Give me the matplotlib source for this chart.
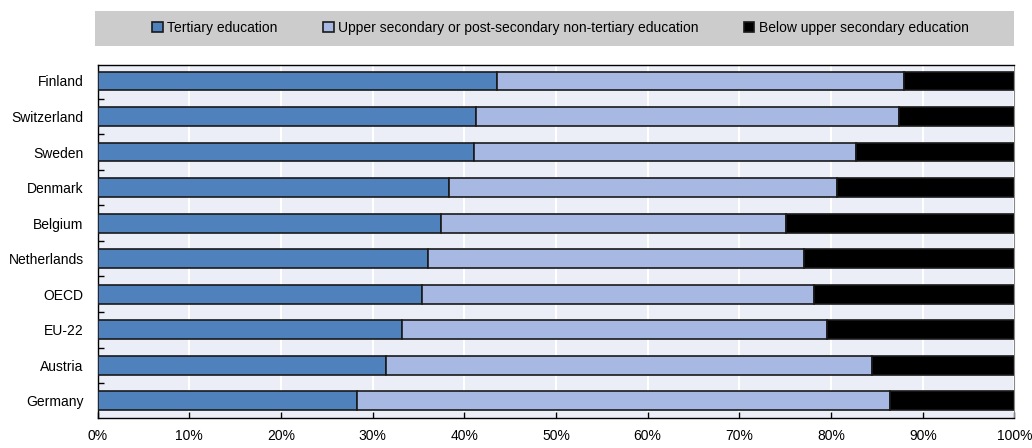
import matplotlib
matplotlib.use("Agg")
import matplotlib.pyplot as plt
from matplotlib.patches import Rectangle
from matplotlib.ticker import FixedLocator, PercentFormatter

# data (percent of population)
countries = ["Finland", "Switzerland", "Sweden", "Denmark", "Belgium",
             "Netherlands", "OECD", "EU-22", "Austria", "Germany"]
tertiary = [43.6, 41.3, 41.1, 38.3, 37.5, 36.0, 35.4, 33.2, 31.5, 28.3]
upper_total = [87.9, 87.4, 82.7, 80.7, 75.1, 77.1, 78.1, 79.6, 84.5, 86.4]
upper_sec = [u - t for u, t in zip(upper_total, tertiary)]
below_sec = [100 - u for u in upper_total]

labels = ["Tertiary education",
          "Upper secondary or post-secondary non-tertiary education",
          "Below upper secondary education"]
colors = ["#4F81BD", "#A7B9E3", "#000000"]

plt.rcParams["font.family"] = ["Liberation Sans", "DejaVu Sans"]
plt.rcParams["font.size"] = 10

fig = plt.figure(figsize=(10.32, 4.48), dpi=100)
ax = fig.add_axes([0.0945, 0.067, 0.8885, 0.788])
ax.set_facecolor("#EBEEF6")

y = list(range(len(countries)))
h = 0.53
ax.barh(y, tertiary, height=h, color=colors[0], edgecolor="#1a1a1a", linewidth=1.2, label=labels[0], zorder=3)
ax.barh(y, upper_sec, left=tertiary, height=h, color=colors[1], edgecolor="#1a1a1a", linewidth=1.2, label=labels[1], zorder=3)
ax.barh(y, below_sec, left=upper_total, height=h, color=colors[2], edgecolor="#1a1a1a", linewidth=1.2, label=labels[2], zorder=3)

ax.set_xlim(0, 100)
ax.set_ylim(len(countries) - 0.52, -0.45)
ax.xaxis.set_major_locator(FixedLocator(range(0, 101, 10)))
ax.xaxis.set_major_formatter(PercentFormatter(decimals=0))
ax.grid(axis="x", color="white", linewidth=1.5, zorder=0)
ax.set_axisbelow(True)

ax.set_yticks(y)
ax.set_yticklabels(countries)
ax.tick_params(axis="y", which="major", length=0, pad=10)
ax.yaxis.set_minor_locator(FixedLocator([i + 0.5 for i in range(len(countries) - 1)]))
ax.tick_params(axis="y", which="minor", length=4, direction="in", width=1, color="black")
ax.tick_params(axis="x", which="major", length=4, direction="in", width=1, pad=8)

for s in ["left", "bottom", "top"]:
    ax.spines[s].set_color("black")
    ax.spines[s].set_linewidth(1)
ax.spines["right"].set_color("#888888")
ax.spines["right"].set_linewidth(0.8)

# grey legend band
fig.patches.append(Rectangle((0.092, 0.898), 0.891, 0.077, transform=fig.transFigure,
                             facecolor="#CCCCCC", edgecolor="none", zorder=0))
fig.legend(loc="center", bbox_to_anchor=(0.543, 0.937), ncol=3, frameon=False,
           handlelength=0.75, handleheight=0.75, handletextpad=0.3,
           columnspacing=3.3, fontsize=10)

fig.savefig("out.png", dpi=100)
